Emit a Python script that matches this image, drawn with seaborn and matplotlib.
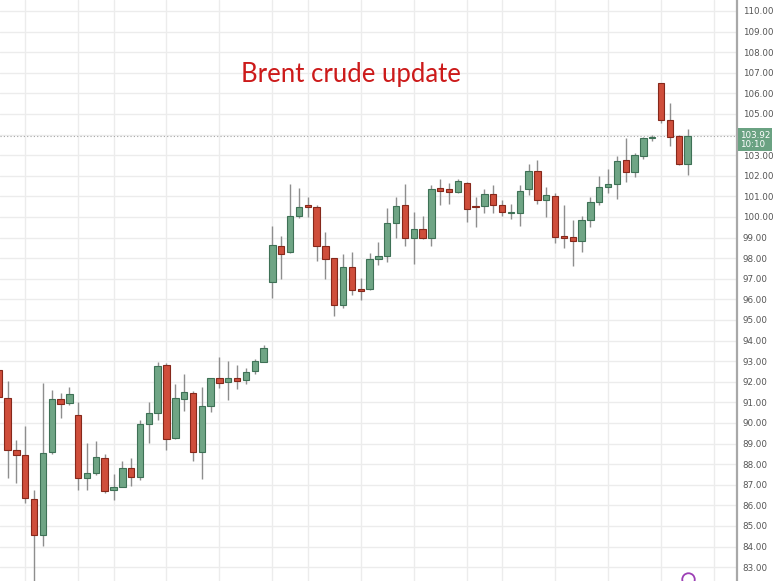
import matplotlib
matplotlib.use('Agg')
import matplotlib.pyplot as plt
import seaborn as sns
import numpy as np
import pandas as pd

# Daily Brent candles (oldest first)
opens = [92.57, 91.23, 88.69, 88.45, 86.31, 84.56, 88.61, 91.15, 90.96, 90.39,
         87.31, 87.59, 88.32, 86.75, 86.91, 87.80, 87.39, 89.94, 90.47, 92.80,
         89.29, 91.15, 91.47, 88.61, 90.84, 92.20, 91.98, 92.20, 92.09, 92.52,
         92.98, 96.83, 98.61, 98.29, 100.06, 100.55, 100.50, 98.59, 98.02, 95.73,
         97.59, 96.50, 96.49, 97.95, 98.12, 99.72, 100.58, 98.97, 99.43, 98.97,
         101.39, 101.36, 101.23, 101.67, 100.53, 100.53, 101.10, 100.60, 100.18, 100.21,
         101.34, 102.23, 100.83, 101.02, 99.08, 99.01, 98.83, 99.85, 100.74, 101.47,
         101.59, 102.77, 102.20, 102.98, 103.82, 106.49, 104.71, 103.93, 102.56]
highs = [92.62, 92.05, 89.17, 89.87, 86.75, 91.96, 91.60, 91.44, 91.73, 91.03,
         89.04, 89.14, 88.50, 87.51, 88.16, 88.29, 90.15, 91.03, 92.98, 92.93,
         91.88, 92.36, 91.55, 91.76, 92.20, 93.19, 93.01, 92.82, 92.66, 93.11,
         93.79, 99.56, 99.09, 101.60, 101.39, 100.99, 100.58, 99.26, 98.02, 98.19,
         98.32, 97.06, 98.24, 98.80, 100.42, 100.99, 101.60, 100.26, 100.05, 101.55,
         101.83, 101.64, 101.83, 101.71, 100.96, 101.34, 101.55, 100.84, 100.62, 101.55,
         102.56, 102.77, 101.47, 101.15, 100.58, 99.85, 100.06, 100.99, 102.00, 102.31,
         102.96, 103.85, 103.12, 103.90, 103.98, 106.49, 105.52, 103.98, 104.26]
lows = [91.20, 87.31, 87.07, 86.10, 82.20, 84.04, 88.50, 90.23, 90.87, 86.75,
        86.75, 87.48, 86.59, 86.26, 86.88, 86.94, 87.23, 89.04, 90.15, 88.69,
        89.21, 90.58, 88.17, 87.27, 90.55, 91.71, 91.12, 91.64, 91.88, 92.38,
        92.95, 96.05, 96.98, 98.24, 99.94, 100.01, 97.88, 96.98, 95.19, 95.57,
        96.21, 95.97, 96.46, 97.67, 97.83, 98.99, 98.59, 97.70, 98.92, 98.59,
        100.58, 100.62, 101.18, 99.74, 99.53, 100.21, 100.21, 100.05, 99.89, 99.58,
        101.07, 100.62, 100.01, 98.72, 98.51, 97.62, 98.32, 99.50, 100.58, 101.18,
        100.86, 101.71, 101.96, 102.80, 103.69, 104.58, 103.45, 102.52, 102.04]
closes = [91.25, 88.69, 88.45, 86.35, 84.56, 88.56, 91.17, 90.91, 91.39, 87.31,
          87.59, 88.37, 86.72, 86.91, 87.80, 87.36, 89.94, 90.47, 92.77, 89.24,
          91.20, 91.52, 88.58, 90.83, 92.17, 91.96, 92.20, 92.05, 92.49, 93.01,
          93.63, 98.64, 98.20, 100.06, 100.50, 100.50, 98.59, 97.98, 95.73, 97.59,
          96.46, 96.42, 97.95, 98.11, 99.72, 100.53, 98.97, 99.40, 98.97, 101.34,
          101.28, 101.23, 101.76, 100.39, 100.47, 101.10, 100.58, 100.22, 100.22, 101.28,
          102.23, 100.83, 101.07, 99.04, 98.97, 98.83, 99.85, 100.74, 101.44, 101.59,
          102.73, 102.20, 103.01, 103.82, 103.90, 104.71, 103.90, 102.56, 103.92]
last_price = 103.92
last_time = "10:10"
title = "Brent crude update"
price_ticks = list(range(83, 111))
# candle indices where the time grid lines fall
time_grid = [3, 9, 13, 19, 25, 31, 35, 41, 47, 53, 57, 63, 69, 75, 81]

df = pd.DataFrame({'open': opens, 'high': highs, 'low': lows, 'close': closes})
df['idx'] = np.arange(len(df))
df['up'] = df['close'] >= df['open']

green, green_edge = '#6fa585', '#3e7156'
red, red_edge = '#cf4e3b', '#86281b'

sns.set_theme(style='whitegrid')
plt.rcParams['font.family'] = ['DejaVu Sans']

fig = plt.figure(figsize=(7.75, 5.81), dpi=100)
ax = fig.add_axes([0, 0, 737 / 775, 1])
ax.set_facecolor('white')

# wicks
ax.vlines(df['idx'], df['low'], df['high'], color='#8e8e8e', lw=1, zorder=2)

# bodies
body_bottom = df[['open', 'close']].min(axis=1)
body_height = (df['close'] - df['open']).abs().clip(lower=0.07)
ax.bar(df['idx'], body_height, bottom=body_bottom, width=0.72,
       color=np.where(df['up'], green, red),
       edgecolor=np.where(df['up'], green_edge, red_edge),
       linewidth=0.8, zorder=3)

# last price line
ax.axhline(last_price, color='#a6a6a6', lw=0.8, linestyle=(0, (1, 2)), zorder=1)

ax.set_xlim(0.147, 83.6)
ax.set_ylim(82.33, 110.53)
ax.set_xticks(time_grid)
ax.set_xticklabels([])
ax.set_yticks(price_ticks)
# the 104 label sits under the last-price tag
ax.set_yticklabels(['' if v == round(last_price) else f'{v:.2f}' for v in price_ticks])
ax.yaxis.tick_right()
ax.tick_params(axis='y', length=0, pad=4, labelsize=6.3, labelcolor='#555555')
ax.tick_params(axis='x', length=0)
ax.grid(True, color='#ececec', lw=1)
ax.set_axisbelow(True)
for side in ['top', 'left', 'bottom']:
    ax.spines[side].set_visible(False)
ax.spines['right'].set_color('#a8a8a8')
ax.spines['right'].set_linewidth(1.6)

# last price tag on the axis
ax.annotate(f'{last_price:.2f}\n{last_time}', xy=(1, last_price - 0.18),
            xycoords=('axes fraction', 'data'), xytext=(2, 0),
            textcoords='offset points', ha='left', va='center',
            fontsize=6.3, color='white', linespacing=1.1, annotation_clip=False,
            bbox=dict(boxstyle='square,pad=0.25', fc='#6aa282', ec='none'))

# logo stub at the bottom edge
ax.plot([78.05], [82.45], marker='o', ms=9, mfc='none', mec='#9c3fb5', mew=1.3,
        clip_on=False)

fig.text(351 / 775, 1 - 74 / 581, title, ha='center', va='center',
         fontsize=18.5, color='#cc1a1a', family=['Lato', 'DejaVu Sans'])

fig.savefig('out.png', dpi=100)
